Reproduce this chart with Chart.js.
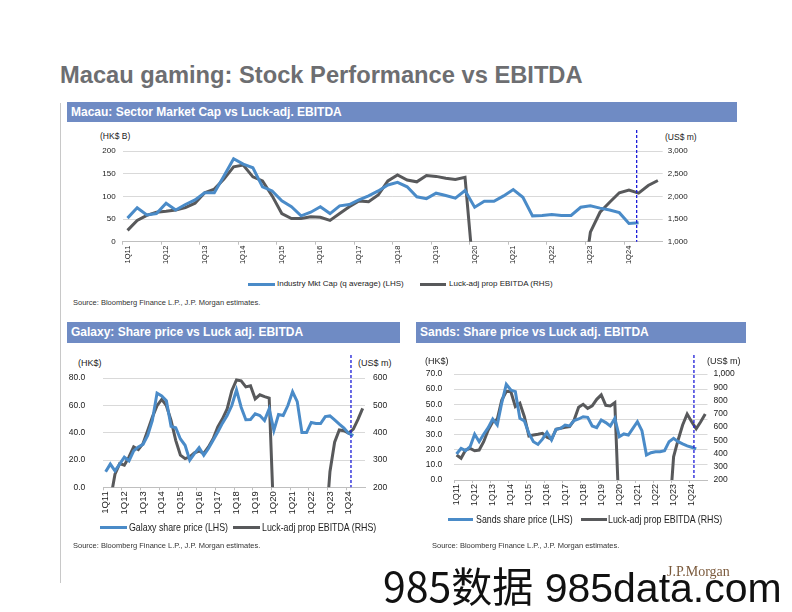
<!DOCTYPE html>
<html>
<head>
<meta charset="utf-8">
<script src="https://cdn.jsdelivr.net/npm/chart.js@4.4.1/dist/chart.umd.min.js"></script>
<style>
  body { margin: 0; width: 792px; height: 612px; background: #fff; position: relative; overflow: hidden; font-family: "Liberation Sans", Arial, sans-serif; color: #222; }
  .abs { position: absolute; white-space: nowrap; }
  .title { left: 60px; top: 63px; font-size: 23.7px; line-height: 24px; font-weight: bold; color: #6d6e71; }
  .bar { background: #6f8bc4; color: #fff; font-weight: bold; font-size: 12px; line-height: 20px; padding-left: 4px; box-sizing: border-box; }
  .unit { font-size: 8.5px; line-height: 10px; }
  .narrow { font-size: 10.5px; line-height: 12px; transform: scaleX(0.84); transform-origin: left center; }
  .src { font-size: 7.5px; line-height: 9px; color: #333; }
  .legline { height: 3px; }
  .blue { background: #4a8bc8; }
  .dark { background: #58595b; }
  canvas { position: absolute; }
</style>
</head>
<body>
<div class="abs" style="left:60px; top:103px; width:1px; height:480px; background:#c8c8c8;"></div>
<div class="abs title">Macau gaming: Stock Performance vs EBITDA</div>

<div class="abs bar" style="left:67px; top:102px; width:670px; height:20px;">Macau: Sector Market Cap vs Luck-adj. EBITDA</div>
<div class="abs unit" style="left:100px; top:131px;">(HK$ B)</div>
<div class="abs unit" style="left:665px; top:132px;">(US$ m)</div>
<canvas id="sectorChart" style="left:70px; top:125px;" width="660" height="150"></canvas>
<div class="abs legline blue" style="left:248px; top:283px; width:27px;"></div>
<div class="abs unit" style="left:277px; top:279px; font-size:8px;">Industry Mkt Cap (q average) (LHS)</div>
<div class="abs legline dark" style="left:420px; top:283px; width:26px;"></div>
<div class="abs unit" style="left:449px; top:279px; font-size:8px;">Luck-adj prop EBITDA (RHS)</div>
<div class="abs src" style="left:73px; top:298px;">Source: Bloomberg Finance L.P., J.P. Morgan estimates.</div>

<div class="abs bar" style="left:67px; top:322px; width:333px; height:21px; line-height:21px;">Galaxy: Share price vs Luck adj. EBITDA</div>
<div class="abs unit" style="left:78px; top:358px; font-size:9px;">(HK$)</div>
<div class="abs unit" style="left:358px; top:358px; font-size:9px;">(US$ m)</div>
<canvas id="galaxyChart" style="left:50px; top:355px;" width="360" height="170"></canvas>
<div class="abs legline blue" style="left:100px; top:526px; width:27px;"></div>
<div class="abs narrow" style="left:129px; top:521px;">Galaxy share price (LHS)</div>
<div class="abs legline dark" style="left:233px; top:526px; width:27px;"></div>
<div class="abs narrow" style="left:262px; top:521px;">Luck-adj prop EBITDA (RHS)</div>
<div class="abs src" style="left:73px; top:541px;">Source: Bloomberg Finance L.P., J.P. Morgan estimates.</div>

<div class="abs bar" style="left:416px; top:322px; width:330px; height:21px; line-height:21px;">Sands: Share price vs Luck adj. EBITDA</div>
<div class="abs unit" style="left:425px; top:356px; font-size:9px;">(HK$)</div>
<div class="abs unit" style="left:707px; top:356px; font-size:9px;">(US$ m)</div>
<canvas id="sandsChart" style="left:405px; top:350px;" width="350" height="167"></canvas>
<div class="abs legline blue" style="left:448px; top:518px; width:25px;"></div>
<div class="abs narrow" style="left:476px; top:513px;">Sands share price (LHS)</div>
<div class="abs legline dark" style="left:581px; top:518px; width:26px;"></div>
<div class="abs narrow" style="left:608px; top:513px;">Luck-adj prop EBITDA (RHS)</div>
<div class="abs src" style="left:432px; top:541px;">Source: Bloomberg Finance L.P., J.P. Morgan estimates.</div>

<div class="abs" style="left:667px; top:565px; font-family:'Liberation Serif', serif; font-size:14px; line-height:14px; color:#7b5a3c;">J.P.Morgan</div>
<div class="abs" style="left:383px; top:564px; font-size:41px; line-height:41px; color:#111;"><span style="font-family:'Noto Sans CJK SC', sans-serif;">985数据</span> 985data.com</div>

<script>
const quarters = [
  '1Q11', '2Q11', '3Q11', '4Q11', '1Q12', '2Q12', '3Q12', '4Q12',
  '1Q13', '2Q13', '3Q13', '4Q13', '1Q14', '2Q14', '3Q14', '4Q14',
  '1Q15', '2Q15', '3Q15', '4Q15', '1Q16', '2Q16', '3Q16', '4Q16',
  '1Q17', '2Q17', '3Q17', '4Q17', '1Q18', '2Q18', '3Q18', '4Q18',
  '1Q19', '2Q19', '3Q19', '4Q19', '1Q20', '2Q20', '3Q20', '4Q20',
  '1Q21', '2Q21', '3Q21', '4Q21', '1Q22', '2Q22', '3Q22', '4Q22',
  '1Q23', '2Q23', '3Q23', '4Q23', '1Q24', '2Q24', '3Q24', '4Q24'
];

// Sector: industry market cap (HK$ B, LHS) and luck-adj EBITDA (US$ m, RHS)
const sectorMktCap = [
  52, 75, 59, 62, 85, 70, 82, 92,
  108, 108, 145, 183, 171, 163, 121, 112,
  90, 77, 57, 65, 77, 62, 79, 82,
  92, 101, 112, 125, 131, 121, 99, 95,
  107, 102, 96, 113, 76, 89, 89, 101,
  115, 98, 57, 58, 60, 58, 58, 76,
  79, 74, 70, 64, 40, 42, null, null
];
const sectorEbitda = [
  1250, 1470, 1580, 1650, 1670, 1700, 1750, 1850,
  2080, 2160, 2380, 2650, 2690, 2430, 2340, 2010,
  1620, 1510, 1510, 1550, 1540, 1470, 1620, 1770,
  1900, 1880, 2030, 2340, 2470, 2360, 2320, 2460,
  2440, 2400, 2370, 2420, 0, -1300, -1000, -400,
  -100, -200, -500, -300, -400, -700, -800, -300,
  1210, 1650, 1870, 2080, 2140, 2070, 2240, 2350
];

// Galaxy: share price (HK$, LHS) and luck-adj EBITDA (US$ m, RHS)
const galaxyPrice = [
  11.4, 17, 12, 17, 22, 19.4, 26.7, 29.6,
  31.5, 38, 49, 69, 67, 63.5, 44.6, 43.6,
  35.4, 30.8, 19.9, 24.7, 29, 23.5, 28.4, 34.4,
  40.5, 47, 52.6, 59.9, 71.3, 58.7, 49.5, 49.7,
  53.8, 52.6, 49, 57.5, 41.7, 53.3, 52.6, 59.9,
  70, 62.8, 40.2, 40.2, 47.5, 46.7, 46.7, 51.8,
  52.3, 49.4, 46.3, 43.4, 39.5, 37.8, null, null
];
const galaxyEbitda = [
  120, 152, 248, 287, 281, 311, 348, 338,
  360, 408, 457, 499, 522, 499, 445, 372,
  318, 305, 311, 326, 333, 324, 348, 378,
  421, 451, 487, 554, 593, 590, 568, 572,
  524, 539, 532, 527, 70, -150, -100, -40,
  10, 20, -60, -40, -80, -120, -100, 30,
  257, 365, 410, 407, 398, 413, 449, 489
];

// Sands: share price (HK$, LHS) and luck-adj EBITDA (US$ m, RHS)
const sandsPrice = [
  17.2, 20.9, 19.4, 22, 30.2, 25.3, 30.2, 34.6,
  40.3, 36.3, 51, 63.2, 59.4, 58.3, 40.7, 39,
  30.8, 25.3, 23.5, 27, 31.5, 26.4, 33.5, 34.1,
  36.3, 35.7, 39.2, 40.3, 41.8, 41.4, 35.7, 34.6,
  39.6, 37.9, 35.7, 40.7, 28.6, 30.4, 29.7, 34.1,
  38.5, 32.6, 16.5, 18, 18.7, 18.7, 19.4, 25.3,
  27.5, 25.3, 23.8, 22.5, 21.6, 20.5, null, null
];
const sandsEbitda = [
  389, 364, 426, 439, 421, 426, 489, 577,
  640, 658, 804, 867, 867, 754, 779, 678,
  532, 540, 545, 552, 522, 507, 582, 590,
  597, 603, 653, 749, 771, 741, 759, 809,
  842, 764, 759, 784, -100, -400, -300, -150,
  -50, -100, -250, -200, -300, -350, -400, -100,
  375, 502, 615, 698, 640, 587, 640, 698
];

// estimates start after this quarter
const forecastAfter = '1Q24';

const BLUE = '#4a8bc8';
const DARK = '#58595b';

Chart.defaults.font.family = '"Liberation Sans", Arial, sans-serif';
Chart.defaults.color = '#222';
Chart.defaults.animation = false;

const forecastLine = {
  id: 'forecastLine',
  afterDatasetsDraw(chart, args, opts) {
    const x = chart.scales.x;
    const i = quarters.indexOf(forecastAfter);
    const px = x.getPixelForValue(i) + opts.frac * (x.getPixelForValue(i + 1) - x.getPixelForValue(i));
    const ctx = chart.ctx;
    ctx.save();
    ctx.strokeStyle = '#1c1cd8';
    ctx.lineWidth = 1.3;
    ctx.setLineDash([3, 2]);
    ctx.beginPath();
    ctx.moveTo(px, chart.chartArea.top - opts.above);
    ctx.lineTo(px, chart.chartArea.bottom);
    ctx.stroke();
    ctx.restore();
  }
};

function withComma(v) {
  return v.toLocaleString('en-US');
}

function buildChart(id, c) {
  return new Chart(document.getElementById(id), {
    type: 'line',
    data: {
      labels: quarters,
      datasets: [
        { data: c.left, yAxisID: 'y', borderColor: BLUE, borderWidth: 3, pointRadius: 0, tension: 0, order: 1 },
        { data: c.right, yAxisID: 'y1', borderColor: DARK, borderWidth: 3, pointRadius: 0, tension: 0, order: 2 }
      ]
    },
    options: {
      responsive: false,
      layout: { padding: { top: c.top, left: 0, right: 0, bottom: 0 } },
      plugins: {
        legend: { display: false },
        tooltip: { enabled: false },
        forecastLine: { frac: c.frac, above: c.above }
      },
      scales: {
        x: {
          offset: true,
          afterFit: s => { s.height = c.xHeight; },
          border: { display: true, color: '#bfbfbf' },
          grid: {
            offset: true,
            drawOnChartArea: false,
            tickLength: 3,
            color: ctx => (ctx.index % 4 === 0 ? '#bfbfbf' : 'transparent')
          },
          ticks: {
            autoSkip: false,
            minRotation: 90,
            maxRotation: 90,
            padding: 1,
            font: { size: c.xFont },
            callback: (v, i) => (i % 4 === 0 ? quarters[i] : '')
          }
        },
        y: {
          position: 'left',
          min: c.leftMin, max: c.leftMax,
          afterFit: s => { s.width = c.leftWidth; },
          border: { display: false },
          grid: { color: '#d9d9d9', drawTicks: false },
          ticks: { stepSize: c.leftStep, padding: c.leftPad, font: { size: c.tickFont }, callback: c.leftFmt }
        },
        y1: {
          position: 'right',
          min: c.rightMin, max: c.rightMax,
          afterFit: s => { s.width = c.rightWidth; },
          border: { display: false },
          grid: { drawOnChartArea: false, drawTicks: false },
          ticks: { stepSize: c.rightStep, padding: c.rightPad, font: { size: c.tickFont }, callback: withComma }
        }
      }
    },
    plugins: [forecastLine]
  });
}

buildChart('sectorChart', {
  left: sectorMktCap, right: sectorEbitda,
  leftMin: 0, leftMax: 200, leftStep: 50, leftFmt: v => v,
  rightMin: 1000, rightMax: 3000, rightStep: 500,
  top: 26, xHeight: 33.3, leftWidth: 52.7, rightWidth: 67.3,
  leftPad: 7, rightPad: 5, tickFont: 8, xFont: 7.5,
  frac: 0.8, above: 21
});

buildChart('galaxyChart', {
  left: galaxyPrice, right: galaxyEbitda,
  leftMin: 0, leftMax: 80, leftStep: 20, leftFmt: v => v.toFixed(1),
  rightMin: 200, rightMax: 600, rightStep: 100,
  top: 22.3, xHeight: 37.7, leftWidth: 53.3, rightWidth: 45,
  leftPad: 18, rightPad: 8, tickFont: 8.5, xFont: 9.5,
  frac: 0.5, above: 23
});

buildChart('sandsChart', {
  left: sandsPrice, right: sandsEbitda,
  leftMin: 0, leftMax: 70, leftStep: 10, leftFmt: v => v.toFixed(1),
  rightMin: 200, rightMax: 1000, rightStep: 100,
  top: 24, xHeight: 37, leftWidth: 49.3, rightWidth: 47.5,
  leftPad: 12, rightPad: 6, tickFont: 8.5, xFont: 9,
  frac: 0.5, above: 19
});
</script>
</body>
</html>
